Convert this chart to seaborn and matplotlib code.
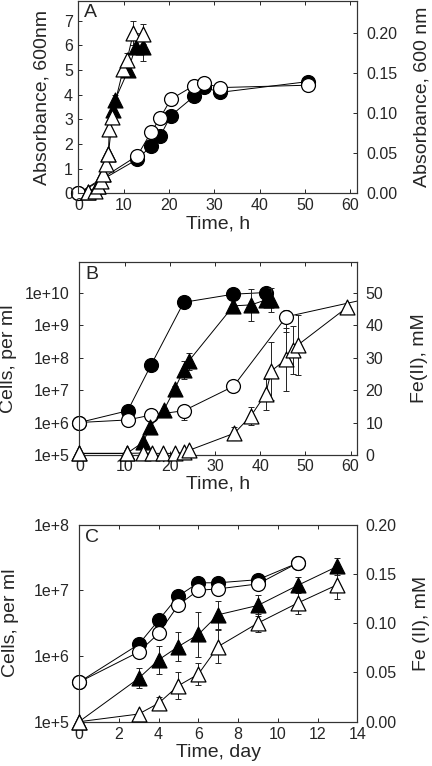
import numpy as np
import matplotlib
matplotlib.use('Agg')
import matplotlib.pyplot as plt
import seaborn as sns

# ---- Panel A: absorbance (triangles left axis, circles right axis) ----
a_tri_closed_t = [2.0, 4.4, 5.5, 6.6, 7.7, 8.1, 11.0, 12.6, 14.2]
a_tri_closed = [0.05, 0.3, 0.8, 1.6, 3.4, 3.8, 5.0, 5.95, 5.95]
a_tri_closed_err = [0, 0, 0, 0, 0, 0.2, 0.15, 0.3, 0.58]
a_tri_open_t = [2.0, 3.7, 4.4, 4.9, 5.5, 6.1, 6.6, 6.8, 7.3, 9.9, 10.7, 12.1, 14.2]
a_tri_open = [0.05, 0.1, 0.3, 0.5, 0.8, 1.2, 1.6, 2.6, 3.1, 5.05, 5.4, 6.5, 6.45]
a_tri_open_err = [0, 0, 0, 0, 0, 0, 0, 0, 0, 0, 0.3, 0.5, 0.4]
a_circ_t = [0, 13.0, 16.0, 18.0, 20.4, 25.5, 27.8, 31.2, 50.7]
a_circ_closed = [0, 0.0425, 0.059, 0.071, 0.097, 0.121, 0.1325, 0.126, 0.1395]
a_circ_open = [0, 0.047, 0.076, 0.094, 0.1175, 0.1345, 0.1375, 0.132, 0.135]

# ---- Panel B: cells (circles, log left) and Fe(II) (triangles, right) ----
b_circ_closed_t = [0, 10.7, 15.9, 23.1, 34.1, 41.2]
b_circ_closed = [1e6, 2.3e6, 6e7, 5e9, 8.9e9, 1e10]
b_circ_open_t = [0, 10.7, 15.9, 23.1, 34.1, 45.8, 70]
b_circ_open = [1e6, 1.2e6, 1.7e6, 2.3e6, 1.3e7, 1.8e9, 1.0e10]
b_circ_open_err = [0, 0, 0, 1.1e6, 0, 1.2e9, 0]
b_tri_closed_t = [0, 10.5, 14.1, 15.7, 18.7, 21.1, 23.1, 24.2, 34.1, 38.0, 41.2, 42.3]
b_tri_closed = [0.5, 0.5, 3.9, 8.7, 13.8, 20.3, 26.2, 28.9, 45.9, 46.2, 47.7, 47.7]
b_tri_closed_err = [0, 0, 0, 0, 0.8, 0.8, 2.8, 2.6, 0, 5.0, 0, 3.6]
b_tri_open_t = [0, 10.5, 14.0, 16.1, 18.6, 21.1, 23.2, 24.2, 34.3, 38.0, 41.2, 42.5, 45.8, 47.3, 48.3, 59.2]
b_tri_open = [0.5, 0.5, 0.6, 0.5, 0.5, 0.5, 0.8, 1.4, 6.7, 12.1, 18.7, 25.9, 29.5, 32.3, 33.8, 45.4]
b_tri_open_err = [0, 0, 0, 0, 0, 0, 0, 0, 2.0, 2.8, 4.8, 8.9, 9.7, 7.5, 9.2, 0]

# ---- Panel C: cells (circles, log left) and Fe(II) (triangles, right) ----
c_circ_t = [0, 3, 4, 5, 6, 7, 9, 11]
c_circ_closed = [4e5, 1.5e6, 3.5e6, 8.2e6, 1.3e7, 1.3e7, 1.45e7, 2.6e7]
c_circ_open = [4e5, 1.15e6, 2.2e6, 6.0e6, 1.0e7, 1.05e7, 1.25e7, 2.6e7]
c_tri_t = [0, 3, 4, 5, 6, 7, 9, 11, 13]
c_tri_closed = [0, 0.044, 0.0627, 0.0763, 0.0885, 0.1085, 0.118, 0.1383, 0.1576]
c_tri_closed_err = [0, 0.0102, 0.0145, 0.0148, 0.0229, 0.014, 0.011, 0.008, 0.0085]
c_tri_open = [0, 0.0078, 0.0187, 0.0366, 0.0482, 0.0763, 0.1001, 0.1204, 0.139]
c_tri_open_err = [0, 0, 0.0063, 0.014, 0.011, 0.017, 0.0093, 0.011, 0.015]

b_log_ticks = [1e5, 1e6, 1e7, 1e8, 1e9, 1e10]
b_log_labels = ['1e+5', '1e+6', '1e+7', '1e+8', '1e+9', '1e+10']
c_log_ticks = [1e5, 1e6, 1e7, 1e8]
c_log_labels = ['1e+5', '1e+6', '1e+7', '1e+8']

sns.set_style('ticks')
plt.rcParams['font.family'] = ['Liberation Sans', 'DejaVu Sans']
plt.rcParams['axes.linewidth'] = 0.8
plt.rcParams['axes.edgecolor'] = '#333333'

LABEL = 14
TICK = 11.5


def series(ax, t, v, err=None, filled=True, marker='o', xmax=None):
    t = np.asarray(t, float)
    v = np.asarray(v, float)
    sns.lineplot(x=t, y=v, ax=ax, color='black', lw=0.7, estimator=None,
                 sort=False, zorder=2)
    if err is not None:
        e = np.asarray(err, float)
        m = e > 0
        if m.any():
            ax.errorbar(t[m], v[m], yerr=e[m], fmt='none', ecolor='#222222',
                        elinewidth=0.7, capsize=2.5, capthick=0.7, zorder=1.5)
    keep = t <= xmax if xmax is not None else np.ones(len(t), bool)
    size = 100 if marker == 'o' else 115
    sns.scatterplot(x=t[keep], y=v[keep], ax=ax, marker=marker, s=size,
                    color='black' if filled else 'white', edgecolor='black',
                    linewidth=0.9, zorder=3, clip_on=False, legend=False)


def style(ax, ax2, xpad, ypad, rpad):
    ax.tick_params(direction='in', length=3, width=0.7, top=True, right=False,
                   labelsize=TICK)
    ax.tick_params(axis='x', pad=xpad)
    ax.tick_params(axis='y', pad=ypad)
    ax2.tick_params(direction='in', length=3, width=0.7, labelsize=TICK, pad=rpad)
    ax.minorticks_off()
    ax2.minorticks_off()
    for a in (ax, ax2):
        for s in a.spines.values():
            s.set_visible(True)


fig = plt.figure(figsize=(4.32, 7.66), dpi=100)

# ---------- A ----------
axA = fig.add_axes([0.1817, 0.7476, 0.6447, 0.251])
axA2 = axA.twinx()
series(axA2, a_circ_t, a_circ_closed, filled=True, marker='o')
series(axA2, a_circ_t, a_circ_open, filled=False, marker='o')
series(axA, a_tri_closed_t, a_tri_closed, a_tri_closed_err, filled=True, marker='^')
series(axA, a_tri_open_t, a_tri_open, a_tri_open_err, filled=False, marker='^')
axA.set_xlim(0, 61.5)
axA.set_ylim(0, 7.8)
axA2.set_ylim(0, 0.24)
axA.set_xticks(range(0, 61, 10))
axA.set_yticks(range(0, 8))
axA2.set_yticks([0, 0.05, 0.10, 0.15, 0.20])
axA2.set_yticklabels(['0.00', '0.05', '0.10', '0.15', '0.20'])
axA.set_xlabel('Time, h', fontsize=LABEL, labelpad=2)
axA.set_ylabel('Absorbance, 600nm', fontsize=LABEL, labelpad=10)
axA2.set_ylabel('Absorbance, 600 nm', fontsize=LABEL, labelpad=11)
axA.text(0.02, 0.985, 'A', transform=axA.transAxes, fontsize=LABEL, va='top', ha='left')
style(axA, axA2, 3.5, 4, 7)
axA.set_zorder(axA2.get_zorder() + 1)
axA.patch.set_visible(False)

# ---------- B ----------
axB = fig.add_axes([0.1836, 0.406, 0.6435, 0.2524])
axB.set_yscale('log')
axB2 = axB.twinx()
series(axB, b_circ_closed_t, b_circ_closed, filled=True, marker='o', xmax=61.5)
series(axB, b_circ_open_t, b_circ_open, b_circ_open_err, filled=False, marker='o', xmax=61.5)
series(axB2, b_tri_closed_t, b_tri_closed, b_tri_closed_err, filled=True, marker='^')
series(axB2, b_tri_open_t, b_tri_open, b_tri_open_err, filled=False, marker='^')
axB.set_xlim(0, 61.5)
axB.set_ylim(1e5, 10 ** 10.95)
axB2.set_ylim(0, 59.5)
axB.set_xticks(range(0, 61, 10))
axB.set_yticks(b_log_ticks)
axB.set_yticklabels(b_log_labels)
axB2.set_yticks(range(0, 51, 10))
axB.set_xlabel('Time, h', fontsize=LABEL, labelpad=1)
axB.set_ylabel('Cells, per ml', fontsize=LABEL, labelpad=6)
axB2.set_ylabel('Fe(II), mM', fontsize=LABEL, labelpad=20)
axB.text(0.02, 0.975, 'B', transform=axB.transAxes, fontsize=LABEL, va='top', ha='left')
style(axB, axB2, 3, 7, 6)

# ---------- C ----------
axC = fig.add_axes([0.1829, 0.0578, 0.6443, 0.2574])
axC.set_yscale('log')
axC2 = axC.twinx()
series(axC, c_circ_t, c_circ_closed, filled=True, marker='o')
series(axC, c_circ_t, c_circ_open, filled=False, marker='o')
series(axC2, c_tri_t, c_tri_closed, c_tri_closed_err, filled=True, marker='^')
series(axC2, c_tri_t, c_tri_open, c_tri_open_err, filled=False, marker='^')
axC.set_xlim(0, 14)
axC.set_ylim(1e5, 1e8)
axC2.set_ylim(0, 0.2)
axC.set_xticks(range(0, 15, 2))
axC.set_yticks(c_log_ticks)
axC.set_yticklabels(c_log_labels)
axC2.set_yticks([0, 0.05, 0.10, 0.15, 0.20])
axC2.set_yticklabels(['0.00', '0.05', '0.10', '0.15', '0.20'])
axC.set_xlabel('Time, day', fontsize=LABEL, labelpad=2)
axC.set_ylabel('Cells, per ml', fontsize=LABEL, labelpad=10)
axC2.set_ylabel('Fe (II), mM', fontsize=LABEL, labelpad=12)
axC.text(0.02, 0.975, 'C', transform=axC.transAxes, fontsize=LABEL, va='top', ha='left')
style(axC, axC2, 3.5, 7, 6)

fig.savefig('out.png', dpi=100)
